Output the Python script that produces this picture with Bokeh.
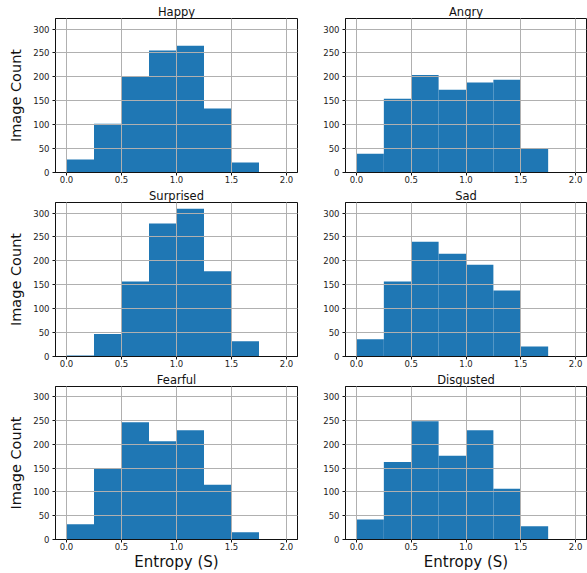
from bokeh.plotting import figure
from bokeh.layouts import column, row
from bokeh.models import Range1d, FixedTicker, PrintfTickFormatter
from bokeh.embed import file_html
from bokeh.resources import INLINE

bin_edges = [0.0, 0.25, 0.5, 0.75, 1.0, 1.25, 1.5, 1.75, 2.0]
happy = [27, 102, 200, 255, 265, 134, 21, 1]
angry = [39, 154, 204, 173, 188, 194, 49, 1]
surprised = [2, 47, 157, 278, 309, 178, 32, 0]
sad = [36, 157, 240, 215, 192, 138, 21, 0]
fearful = [32, 149, 247, 207, 230, 115, 15, 0]
disgusted = [42, 163, 249, 176, 230, 107, 28, 0]
titles = ["Happy", "Angry", "Surprised", "Sad", "Fearful", "Disgusted"]
series = [happy, angry, surprised, sad, fearful, disgusted]
x_ticks = [0.0, 0.5, 1.0, 1.5, 2.0]
y_ticks = [0, 50, 100, 150, 200, 250, 300]

FONT = "DejaVu Sans"
X_MIN, X_MAX, Y_MAX = -0.1, 2.1, 322
top_borders = [18, 15, 14]
bottom_borders = [14, 14, 31]
frame_heights = [154, 154, 153]


def make(i):
    r, c = divmod(i, 2)
    p = figure(
        frame_width=242 if c == 0 else 241, frame_height=frame_heights[r],
        x_range=Range1d(X_MIN, X_MAX), y_range=Range1d(0, Y_MAX),
        output_backend="svg", toolbar_location=None,
        min_border_left=55 if c == 0 else 28,
        min_border_right=20 if c == 0 else 1,
        min_border_top=top_borders[r],
        min_border_bottom=bottom_borders[r],
    )
    p.quad(left=bin_edges[:-1], right=bin_edges[1:], bottom=0, top=series[i],
           fill_color="#1f77b4", line_color=None)
    p.title.text = titles[i]
    p.title.align = "center"
    p.title.text_font = FONT
    p.title.text_font_size = "11.5px"
    p.title.text_font_style = "normal"
    p.title.text_color = "#111111"
    p.title.text_line_height = 0.75
    p.title.standoff = 0
    p.title.offset = 0

    for g in (p.xgrid, p.ygrid):
        g.level = "overlay"
        g.grid_line_color = "#b0b0b0"
        g.grid_line_width = 1
    p.xaxis.ticker = FixedTicker(ticks=x_ticks)
    p.xaxis.formatter = PrintfTickFormatter(format="%.1f")
    p.yaxis.ticker = FixedTicker(ticks=y_ticks)
    for ax in (p.xaxis, p.yaxis):
        ax.major_label_text_font = FONT
        ax.major_label_text_font_size = "8.5px"
        ax.major_label_text_color = "#222222"
        ax.major_tick_out = 3
        ax.major_tick_in = 0
        ax.minor_tick_line_color = None
        ax.major_label_standoff = 3
        ax.axis_line_color = "#111111"
        ax.major_tick_line_color = "#111111"
    p.xaxis.major_label_standoff = 0
    p.outline_line_color = "#111111"
    p.outline_line_width = 1
    if c == 0:
        p.yaxis.axis_label = "Image Count"
        p.yaxis.axis_label_text_font = FONT
        p.yaxis.axis_label_text_font_size = "14.5px"
        p.yaxis.axis_label_text_font_style = "normal"
        p.yaxis.axis_label_text_color = "#111111"
        p.yaxis.axis_label_standoff = 6
    if r == 2:
        p.xaxis.axis_label = "Entropy (S)"
        p.xaxis.axis_label_text_font = FONT
        p.xaxis.axis_label_text_font_size = "15px"
        p.xaxis.axis_label_text_font_style = "normal"
        p.xaxis.axis_label_text_color = "#111111"
        p.xaxis.axis_label_standoff = 0
    return p


figs = [make(i) for i in range(6)]
layout = column(row(figs[0], figs[1]), row(figs[2], figs[3]), row(figs[4], figs[5]))
open("out.html", "w").write(file_html(layout, INLINE))
